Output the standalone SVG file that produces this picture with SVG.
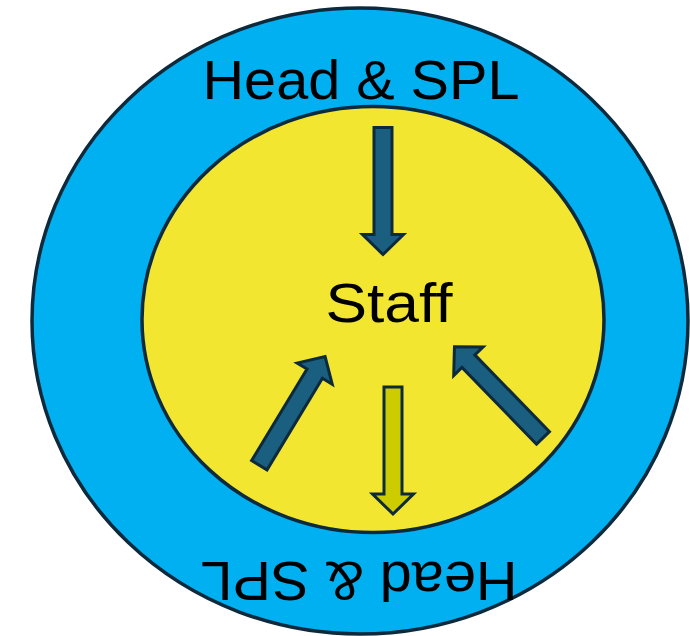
<svg xmlns="http://www.w3.org/2000/svg" xmlns:xlink="http://www.w3.org/1999/xlink" width="690" height="636" viewBox="0 0 690 636">
  <style>
    .ring { stroke: #0C2A3C; stroke-width: 3.5; }
    .label { font-family: "Liberation Sans", Arial, sans-serif; font-size: 56px; fill: #000000; text-anchor: middle; }
    .arrow { stroke: #0C2A3C; stroke-width: 3; stroke-linejoin: miter; }
    .arrow-in { fill: #1A5E80; }
    .arrow-out { fill: #CCCC00; }
  </style>
  <defs>
    <!-- block arrow pointing along +x, tail at the origin -->
    <path id="blockArrow" d="M0,-9 H107 V-20.5 L127,0 L107,20.5 V9 H0 Z"/>
  </defs>

  <g id="outer-ring">
    <ellipse class="ring" cx="360" cy="321" rx="328" ry="313" fill="#00B0F0"/>
  </g>

  <g id="inner-core">
    <ellipse class="ring" cx="373" cy="319.5" rx="231" ry="213" fill="#F2E631"/>
  </g>

  <g id="label-head-top">
    <text class="label" x="361" y="99" textLength="317" lengthAdjust="spacingAndGlyphs">Head &amp; SPL</text>
  </g>

  <g id="label-head-bottom">
    <text class="label" x="361" y="603" textLength="317" lengthAdjust="spacingAndGlyphs" transform="rotate(180 360 582.5)">Head &amp; SPL</text>
  </g>

  <g id="label-staff">
    <text class="label" x="389" y="322" textLength="127" lengthAdjust="spacingAndGlyphs">Staff</text>
  </g>

  <g id="connectors">
    <use xlink:href="#blockArrow" class="arrow arrow-in" transform="translate(383 127.5) rotate(90)"/>
    <use xlink:href="#blockArrow" class="arrow arrow-in" transform="translate(259.3 465.2) rotate(-58.8)"/>
    <use xlink:href="#blockArrow" class="arrow arrow-in" transform="translate(543 437.9) rotate(-134.2)"/>
    <use xlink:href="#blockArrow" class="arrow arrow-out" transform="translate(393 387) rotate(90)"/>
  </g>
</svg>
